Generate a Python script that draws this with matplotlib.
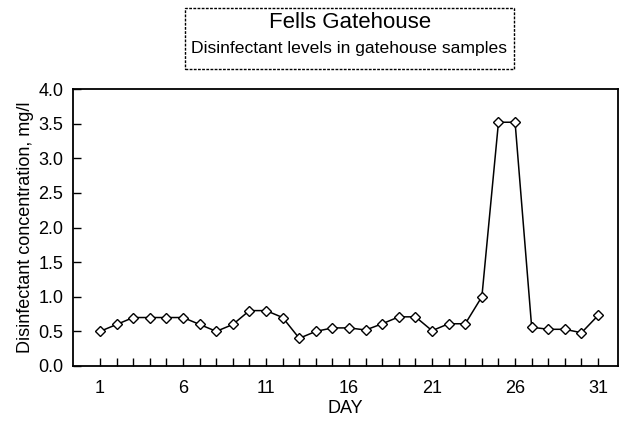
import matplotlib.pyplot as plt
from matplotlib.patches import Rectangle
from matplotlib.ticker import MultipleLocator, FixedLocator

plt.rcParams['font.family'] = ['Liberation Sans', 'DejaVu Sans']

days = list(range(1, 32))
conc = [0.50, 0.60, 0.70, 0.70, 0.70, 0.70, 0.60, 0.50, 0.60, 0.80,
        0.80, 0.70, 0.40, 0.50, 0.55, 0.55, 0.52, 0.61, 0.71, 0.71,
        0.51, 0.61, 0.61, 1.00, 3.52, 3.52, 0.56, 0.53, 0.53, 0.48,
        0.73]
xticks = [1, 6, 11, 16, 21, 26, 31]

fig = plt.figure(figsize=(6.27, 4.22), dpi=100)
W, H = 627, 422
ax = fig.add_axes([73 / W, 1 - 366 / H, (618 - 73) / W, (366 - 89) / H])

ax.plot(days, conc, color='black', linewidth=1.1, marker='D', markersize=5,
        markerfacecolor='white', markeredgecolor='black', markeredgewidth=1)

ax.set_xlim(-0.63, 32.2)
ax.set_ylim(0, 4.0)
ax.set_xticks(xticks)
ax.xaxis.set_minor_locator(FixedLocator(days))
ax.yaxis.set_major_locator(MultipleLocator(0.5))
ax.yaxis.set_major_formatter(plt.FormatStrFormatter('%.1f'))
ax.tick_params(axis='both', direction='in', labelsize=13, length=6, width=1)
ax.tick_params(axis='x', which='minor', direction='in', length=6, width=1)
ax.tick_params(axis='x', which='major', pad=10)
ax.tick_params(axis='y', which='major', pad=7)
for s in ax.spines.values():
    s.set_linewidth(1.3)

ax.set_xlabel('DAY', fontsize=13, labelpad=2)
ax.set_ylabel('Disinfectant concentration, mg/l', fontsize=13, labelpad=3)

# title box
fig.patches.append(Rectangle((185 / W, 1 - 69 / H), (514 - 185) / W, (69 - 8) / H,
                             transform=fig.transFigure, facecolor='white',
                             edgecolor='black', linewidth=1, linestyle=(0, (2, 1))))
fig.text(350 / W, 1 - 23 / H, 'Fells Gatehouse', ha='center', va='center', fontsize=16)
fig.text(349 / W, 1 - 49 / H, 'Disinfectant levels in gatehouse samples',
         ha='center', va='center', fontsize=12.6)

fig.savefig('out.png', dpi=100)
